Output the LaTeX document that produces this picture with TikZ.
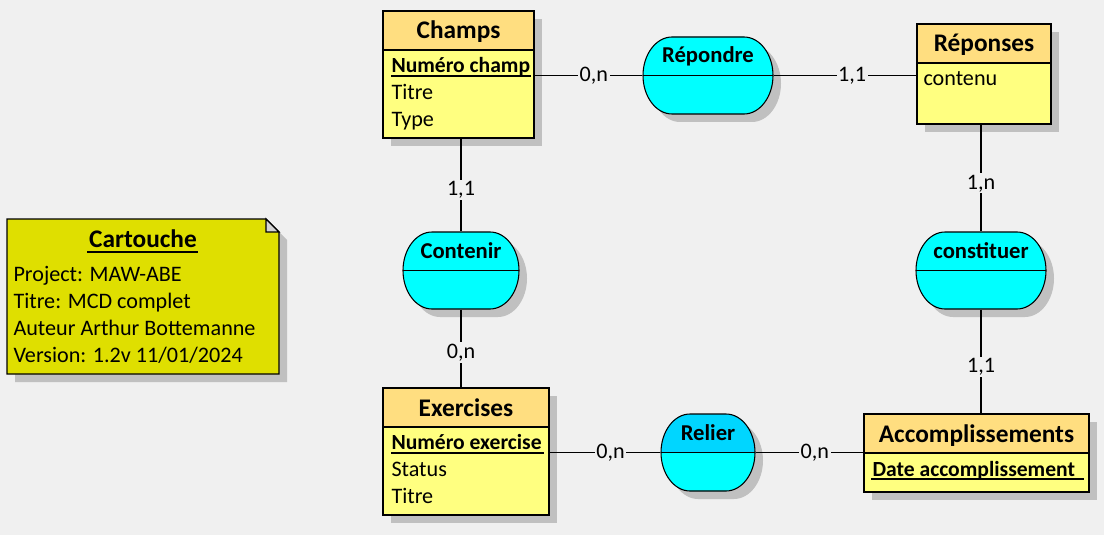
\documentclass[tikz,border=0pt]{standalone}
\usepackage{fontspec}
\setmainfont{Carlito}
\usetikzlibrary{fit}

\definecolor{bggray}{RGB}{240,240,240}
\definecolor{shadowgray}{RGB}{192,192,192}
\definecolor{headyellow}{RGB}{255,222,128}
\definecolor{bodyyellow}{RGB}{255,255,128}
\definecolor{assoccyan}{RGB}{0,255,255}
\definecolor{selcyan}{RGB}{0,214,255}
\definecolor{noteolive}{RGB}{223,223,0}
\definecolor{foldgray}{RGB}{212,212,212}

\tikzset{
	enttitle/.style={anchor=base, inner sep=0pt, font=\bfseries\fontsize{19}{23}\selectfont},
	assoctitle/.style={anchor=base, inner sep=0pt, font=\bfseries\fontsize{17}{20}\selectfont},
	attr/.style={anchor=base west, inner sep=0pt, font=\fontsize{16.6}{19}\selectfont},
	keyattr/.style={attr, font=\bfseries\fontsize{16.2}{19}\selectfont},
	card/.style={fill=bggray, inner sep=1.2pt, pos=.55, font=\fontsize{16.6}{19}\selectfont},
	box/.style={fit={#1}, inner sep=0pt}
}

% entity: name, top left, bottom right, title
\def\entity#1(#2,#3)(#4,#5)#6{%
	\fill[shadowgray] ({#2+8},{#3+8}) rectangle ({#4+8},{#5+8});
	\draw[fill=bodyyellow] (#2,#3) rectangle (#4,#5);
	\draw[fill=headyellow] (#2,#3) rectangle (#4,{#3+39});
	\node[enttitle] (#1-title) at ({(#2+#4)/2},{#3+28}) {#6};
	\node[box={(#2,#3) (#4,#5)}] (#1) {};
}
% association outline
\def\assocpath#1(#2,#3)(#4,#5){%
	\path[#1] (#2,{(#3+#5)/2}) .. controls +(0,-21) and +(-16,0) .. ({#2+29},#3)
		-- ({#4-29},#3) .. controls +(16,0) and +(0,-21) .. (#4,{(#3+#5)/2})
		.. controls +(0,21) and +(16,0) .. ({#4-29},#5)
		-- ({#2+29},#5) .. controls +(-16,0) and +(0,21) .. (#2,{(#3+#5)/2}) -- cycle;
}
% association: name, top left, bottom right, top colour, title
\def\assoc#1(#2,#3)(#4,#5)#6#7{%
	\assocpath{fill=shadowgray, shift={(8,8)}}(#2,#3)(#4,#5)
	\assocpath{fill=assoccyan}(#2,#3)(#4,#5)
	\begin{scope}
		\clip (#2,#3) rectangle (#4,{(#3+#5)/2});
		\assocpath{fill=#6}(#2,#3)(#4,#5)
	\end{scope}
	\assocpath{draw}(#2,#3)(#4,#5)
	\draw (#2,{(#3+#5)/2}) -- (#4,{(#3+#5)/2});
	\node[assoctitle] (#1-title) at ({(#2+#4)/2},{#3+26}) {#7};
	\node[box={(#2,#3) (#4,#5)}] (#1) {};
}

\begin{document}
\begin{tikzpicture}[x=0.75pt, y=-0.75pt, line width=0.8pt]
		%%%%% START %%%%%
		
		\fill[bggray] (0,0) rectangle (1104,535);
		\useasboundingbox (0,0) rectangle (1104,535);
		
		% cartouche
		\fill[shadowgray] (15,227) -- (274,227) -- (287,240) -- (287,382) -- (15,382) -- cycle;
		\draw[fill=noteolive] (7,219) -- (266,219) -- (279,232) -- (279,374) -- (7,374) -- cycle;
		\draw[fill=foldgray] (266,219) -- (266,232) -- (279,232) -- cycle;
		\node[box={(7,219) (279,374)}] (cartouche) {};
		\node[enttitle] (cart-title) at (143,247) {Cartouche};
		\draw (87,252) -- (198,252);
		\node[attr] (cart-l1) at (13,281) {Project: MAW-ABE};
		\node[attr] (cart-l2) at (13,308) {Titre: MCD complet};
		\node[attr] (cart-l3) at (13,335) {Auteur Arthur Bottemanne};
		\node[attr] (cart-l4) at (13,362) {Version: 1.2v 11/01/2024};
		
		% entities
		\entity{champs}(383,11)(534,138){Champs}
		\node[keyattr] (champs-a1) at (391,73) {Numéro champ};
		\draw (391,76) -- (531,76);
		\node[attr] (champs-a2) at (391,100) {Titre};
		\node[attr] (champs-a3) at (391,127) {Type};
		
		\entity{reponses}(917,24)(1051,124){Réponses}
		\node[attr] (reponses-a1) at (923,86) {contenu};
		
		\entity{exercises}(383,388)(549,515){Exercises}
		\node[keyattr] (exercises-a1) at (391,449) {Numéro exercise};
		\draw (391,453) -- (544,453);
		\node[attr] (exercises-a2) at (391,476) {Status};
		\node[attr] (exercises-a3) at (391,503) {Titre};
		
		\entity{accomp}(864,414)(1089,492){Accomplissements}
		\node[keyattr] (accomp-a1) at (872,476) {Date accomplissement};
		\draw (871,479) -- (1084,479);
		
		% associations
		\assoc{repondre}(643,37)(773,114){assoccyan}{Répondre}
		\assoc{contenir}(403,232)(519,309){assoccyan}{Contenir}
		\assoc{constituer}(916,232)(1046,309){assoccyan}{constituer}
		\assoc{relier}(661,414)(755,491){selcyan}{Relier}
		
		% links
		\draw (champs.east |- repondre) -- node[card] (c1) {0,n} (repondre);
		\draw (repondre) -- node[card] (c2) {1,1} (repondre -| reponses.west);
		\draw (contenir |- champs.south) -- node[card] (c3) {1,1} (contenir);
		\draw (contenir) -- node[card] (c4) {0,n} (contenir |- exercises.north);
		\draw (constituer |- reponses.south) -- node[card] (c5) {1,n} (constituer);
		\draw (constituer) -- node[card] (c6) {1,1} (constituer |- accomp.north);
		\draw (exercises.east |- relier) -- node[card] (c7) {0,n} (relier);
		\draw (relier) -- node[card] (c8) {0,n} (relier -| accomp.west);
		
		%%%%% END %%%%%
	\end{tikzpicture}
\end{document}
